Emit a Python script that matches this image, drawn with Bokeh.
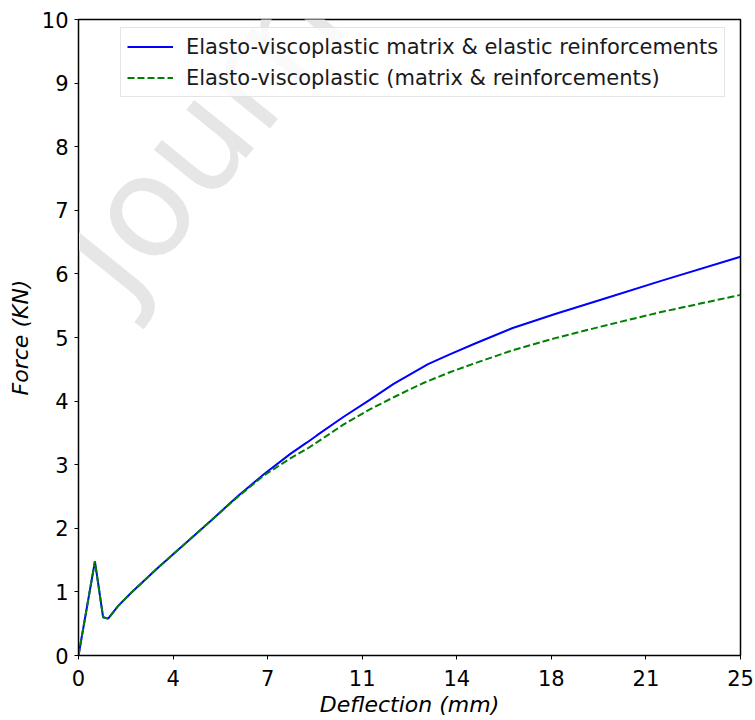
from bokeh.plotting import figure
from bokeh.models import ColumnDataSource, FixedTicker, Legend, LegendItem, Label, Range1d
from bokeh.embed import file_html
from bokeh.resources import INLINE

# Data
deflection_a = [0, 0.62, 0.93, 1.12, 1.5, 2, 3, 4, 5, 6, 7, 8, 8.63, 9, 10, 11, 11.9, 13.2, 14, 15, 16.4, 18, 20, 22, 25]
force_a = [0, 1.48, 0.60, 0.58, 0.78, 0.99, 1.38, 1.75, 2.12, 2.50, 2.85, 3.17, 3.35, 3.46, 3.75, 4.02, 4.27, 4.58, 4.73, 4.91, 5.15, 5.37, 5.63, 5.89, 6.27]

deflection_b = [0, 0.62, 0.93, 1.12, 1.5, 2, 3, 4, 5, 6, 7, 8, 8.63, 9, 10, 11, 12, 12.54, 13, 14, 15, 16.4, 18, 20, 22, 25]
force_b = [0, 1.48, 0.60, 0.58, 0.78, 0.99, 1.38, 1.75, 2.12, 2.49, 2.83, 3.10, 3.25, 3.35, 3.63, 3.87, 4.08, 4.19, 4.28, 4.45, 4.60, 4.80, 4.99, 5.20, 5.40, 5.67]

label_a = "Elasto-viscoplastic matrix & elastic reinforcements"
label_b = "Elasto-viscoplastic (matrix & reinforcements)"

x_tick_positions = [0, 3.5714285714, 7.1428571429, 10.7142857143, 14.2857142857, 17.8571428571, 21.4285714286, 25]
x_tick_labels = ["0", "4", "7", "11", "14", "18", "21", "25"]
y_ticks = [0, 1, 2, 3, 4, 5, 6, 7, 8, 9, 10]

FONT = "DejaVu Sans"

p = figure(width=755, height=720, output_backend="svg", toolbar_location=None,
           x_range=Range1d(0, 25), y_range=Range1d(0, 10),
           min_border_left=78, min_border_right=15, min_border_top=19, min_border_bottom=65)

p.background_fill_color = "white"
p.border_fill_color = "white"
p.outline_line_color = "black"
p.outline_line_width = 1.5
p.xgrid.visible = False
p.ygrid.visible = False

# Watermark
wm = Label(x=10, y=380, x_units="screen", y_units="screen", text="Journal",
           angle=51, angle_units="deg", text_font=FONT, text_font_size="140px",
           text_color="#e6e6e6", text_baseline="alphabetic", level="underlay")
p.add_layout(wm)

src_a = ColumnDataSource(dict(x=deflection_a, y=force_a))
src_b = ColumnDataSource(dict(x=deflection_b, y=force_b))
ra = p.line("x", "y", source=src_a, line_color="#0000ff", line_width=2)
rb = p.line("x", "y", source=src_b, line_color="#008000", line_width=2, line_dash="7 3")

for ax in (p.xaxis[0], p.yaxis[0]):
    ax.major_label_text_font = FONT
    ax.major_label_text_font_size = "21px"
    ax.major_label_text_color = "black"
    ax.axis_label_text_font = FONT
    ax.axis_label_text_font_size = "22px"
    ax.axis_label_text_font_style = "italic"
    ax.axis_label_text_color = "black"
    ax.major_tick_out = 4
    ax.major_tick_in = 0
    ax.minor_tick_out = 0
    ax.minor_tick_in = 0
    ax.axis_line_color = "black"
    ax.major_tick_line_color = "black"

p.xaxis[0].ticker = FixedTicker(ticks=x_tick_positions)
p.xaxis[0].major_label_overrides = dict(zip(x_tick_positions, x_tick_labels))
p.yaxis[0].ticker = FixedTicker(ticks=y_ticks)
p.xaxis[0].axis_label = "Deflection (mm)"
p.yaxis[0].axis_label = "Force (KN)"
p.xaxis[0].major_label_standoff = 10
p.xaxis[0].axis_label_standoff = 3
p.yaxis[0].major_label_standoff = 6
p.yaxis[0].axis_label_standoff = 6

legend = Legend(items=[LegendItem(label=label_a, renderers=[ra]),
                       LegendItem(label=label_b, renderers=[rb])],
                location=(42, 558))
legend.label_text_font = FONT
legend.label_text_font_size = "21px"
legend.label_text_color = "#1a1a1a"
legend.glyph_width = 46
legend.glyph_height = 25
legend.label_height = 25
legend.label_standoff = 13
legend.spacing = 6
legend.padding = 6
legend.border_line_color = "#cccccc"
legend.border_line_width = 1
legend.background_fill_color = "white"
legend.background_fill_alpha = 0.8
p.add_layout(legend, "center")

open("out.html", "w").write(file_html(p, INLINE))
